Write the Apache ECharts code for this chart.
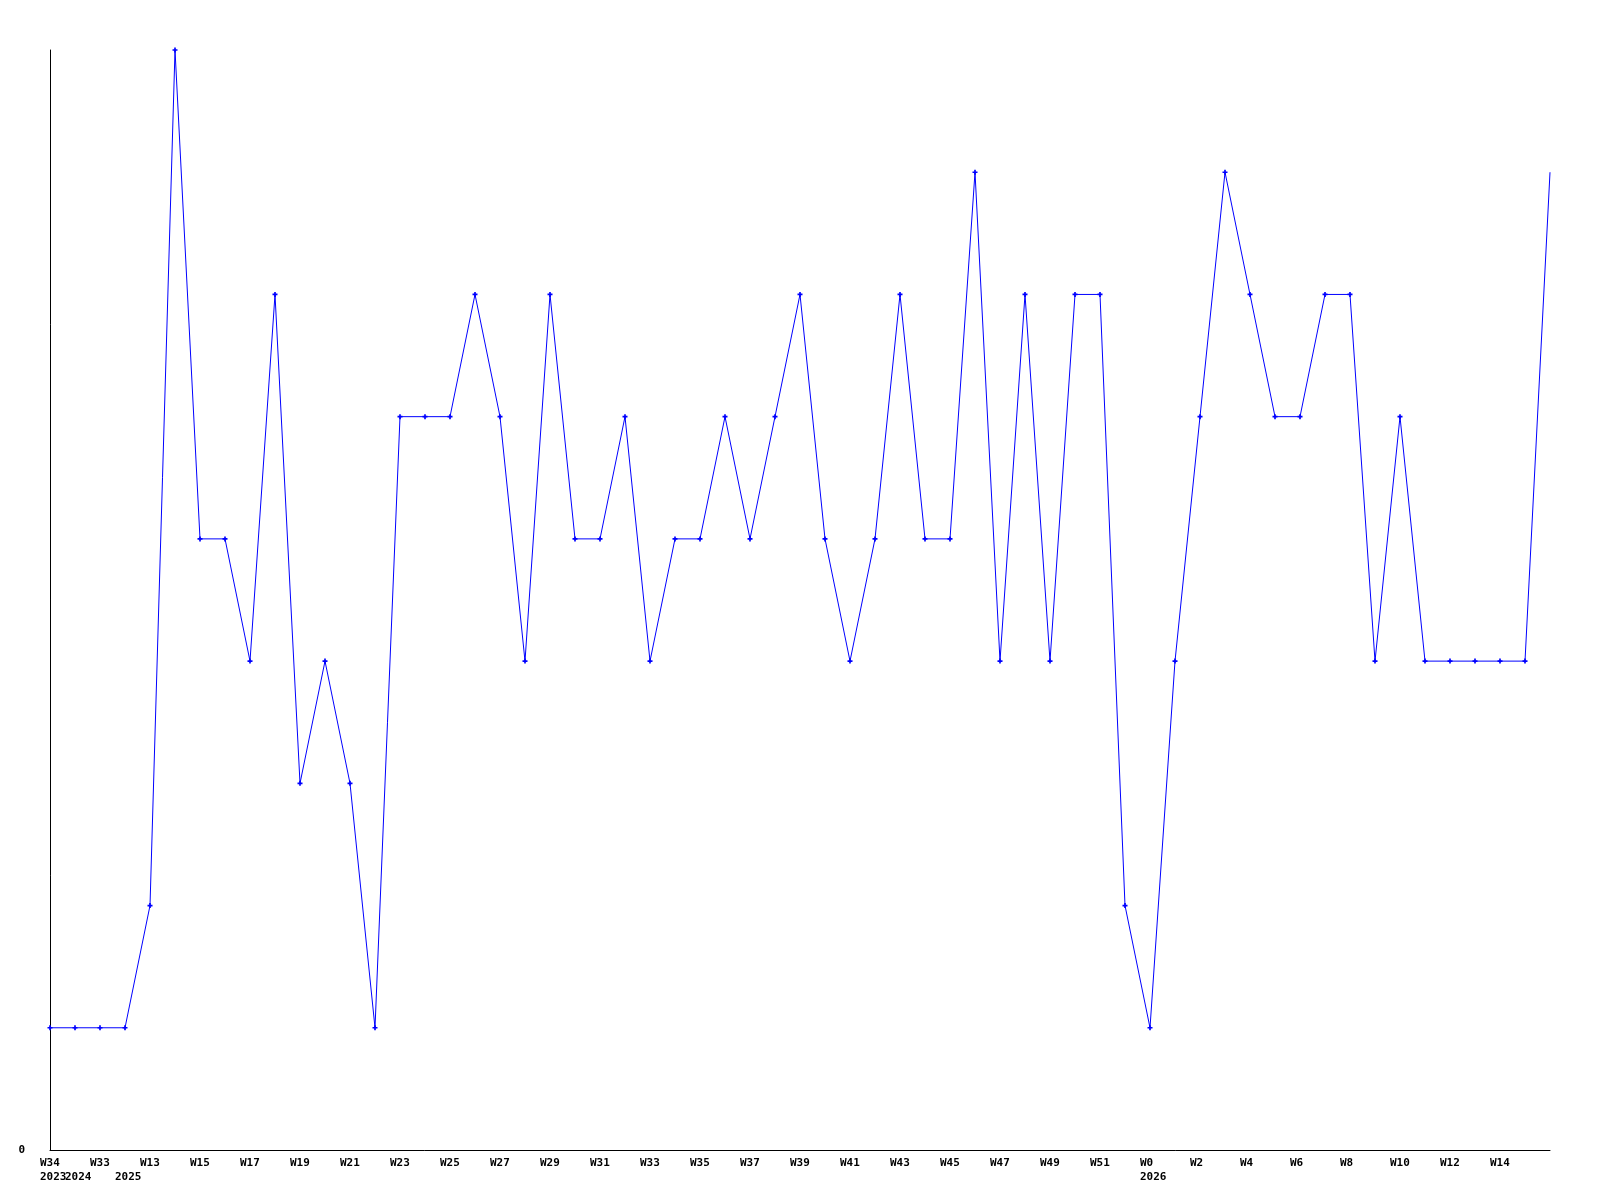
<!DOCTYPE html>
<html>
<head>
<meta charset="utf-8">
<script src="https://cdn.jsdelivr.net/npm/echarts@6/dist/echarts.min.js"></script>
<style>
  html, body { margin: 0; padding: 0; background: #fff; }
  #main { width: 1600px; height: 1200px; }
</style>
</head>
<body>
<div id="main"></div>
<script>
// week labels, one per point
var weeks = ['W34', 'W32', 'W33', 'W12', 'W13', 'W14', 'W15', 'W16', 'W17', 'W18',
    'W19', 'W20', 'W21', 'W22', 'W23', 'W24', 'W25', 'W26', 'W27', 'W28',
    'W29', 'W30', 'W31', 'W32', 'W33', 'W34', 'W35', 'W36', 'W37', 'W38',
    'W39', 'W40', 'W41', 'W42', 'W43', 'W44', 'W45', 'W46', 'W47', 'W48',
    'W49', 'W50', 'W51', 'W52', 'W0', 'W1', 'W2', 'W3', 'W4', 'W5',
    'W6', 'W7', 'W8', 'W9', 'W10', 'W11', 'W12', 'W13', 'W14', 'W15', 'W16'];
// year shown under the point where a new year starts
var years = {0: '2023', 1: '2024', 3: '2025', 44: '2026'};
var counts = [1, 1, 1, 1, 2, 9, 5, 5, 4, 7,
    3, 4, 3, 1, 6, 6, 6, 7, 6, 4,
    7, 5, 5, 6, 4, 5, 5, 6, 5, 6,
    7, 5, 4, 5, 7, 5, 5, 8, 4, 7,
    4, 7, 7, 2, 1, 4, 6, 8, 7, 6,
    6, 7, 7, 4, 6, 4, 4, 4, 4, 4, 8];

function DrawChart() {
    var chart = echarts.init(document.getElementById('main'));
    var font = '"DejaVu Sans Mono", monospace';
    var last = counts.length - 1;

    var lineData = counts.map(function (v, i) {
        if (i === last) {
            return {value: v, symbol: 'none'};
        }
        return v;
    });

    var option = {
        backgroundColor: '#fff',
        animation: false,
        grid: [
            {left: 50, right: 50, top: 50, bottom: 50},
            // labels grid, shifted 10px left so text starts before the point
            {left: 40, right: 60, top: 50, bottom: 50}
        ],
        xAxis: [
            {
                type: 'category',
                gridIndex: 0,
                data: weeks,
                boundaryGap: false,
                axisLine: {lineStyle: {color: '#000', width: 1}},
                axisTick: {show: false},
                axisLabel: {show: false},
                splitLine: {show: false}
            },
            {
                type: 'category',
                gridIndex: 1,
                data: weeks,
                boundaryGap: false,
                axisLine: {show: false},
                axisTick: {show: false},
                splitLine: {show: false},
                axisLabel: {
                    interval: 0,
                    align: 'left',
                    margin: 6,
                    color: '#000',
                    fontFamily: font,
                    fontWeight: 'bold',
                    fontSize: 11,
                    lineHeight: 14,
                    formatter: function (val, i) {
                        var w = (i % 2 === 0 && i !== last) ? val : '';
                        var y = years[i] || '';
                        if (!w && !y) return '';
                        return w + '\n' + y;
                    }
                }
            }
        ],
        yAxis: [
            {
                type: 'value',
                gridIndex: 0,
                min: 0,
                max: 9,
                interval: 9,
                axisLine: {show: true, lineStyle: {color: '#000', width: 1}},
                axisTick: {show: false},
                splitLine: {show: false},
                axisLabel: {
                    margin: 25,
                    color: '#000',
                    fontFamily: font,
                    fontWeight: 'bold',
                    fontSize: 11,
                    formatter: function (v) { return v === 0 ? '0' : ''; }
                }
            },
            {
                type: 'value',
                gridIndex: 1,
                min: 0,
                max: 9,
                show: false
            }
        ],
        series: [
            {
                type: 'line',
                xAxisIndex: 0,
                yAxisIndex: 0,
                data: lineData,
                symbol: 'path://M2,0H4V2H6V4H4V6H2V4H0V2H2Z',
                symbolSize: 5,
                showAllSymbol: true,
                lineStyle: {color: '#0000ff', width: 1},
                itemStyle: {color: '#0000ff'}
            }
        ]
    };

    chart.setOption(option);
}

DrawChart();
</script>
</body>
</html>
